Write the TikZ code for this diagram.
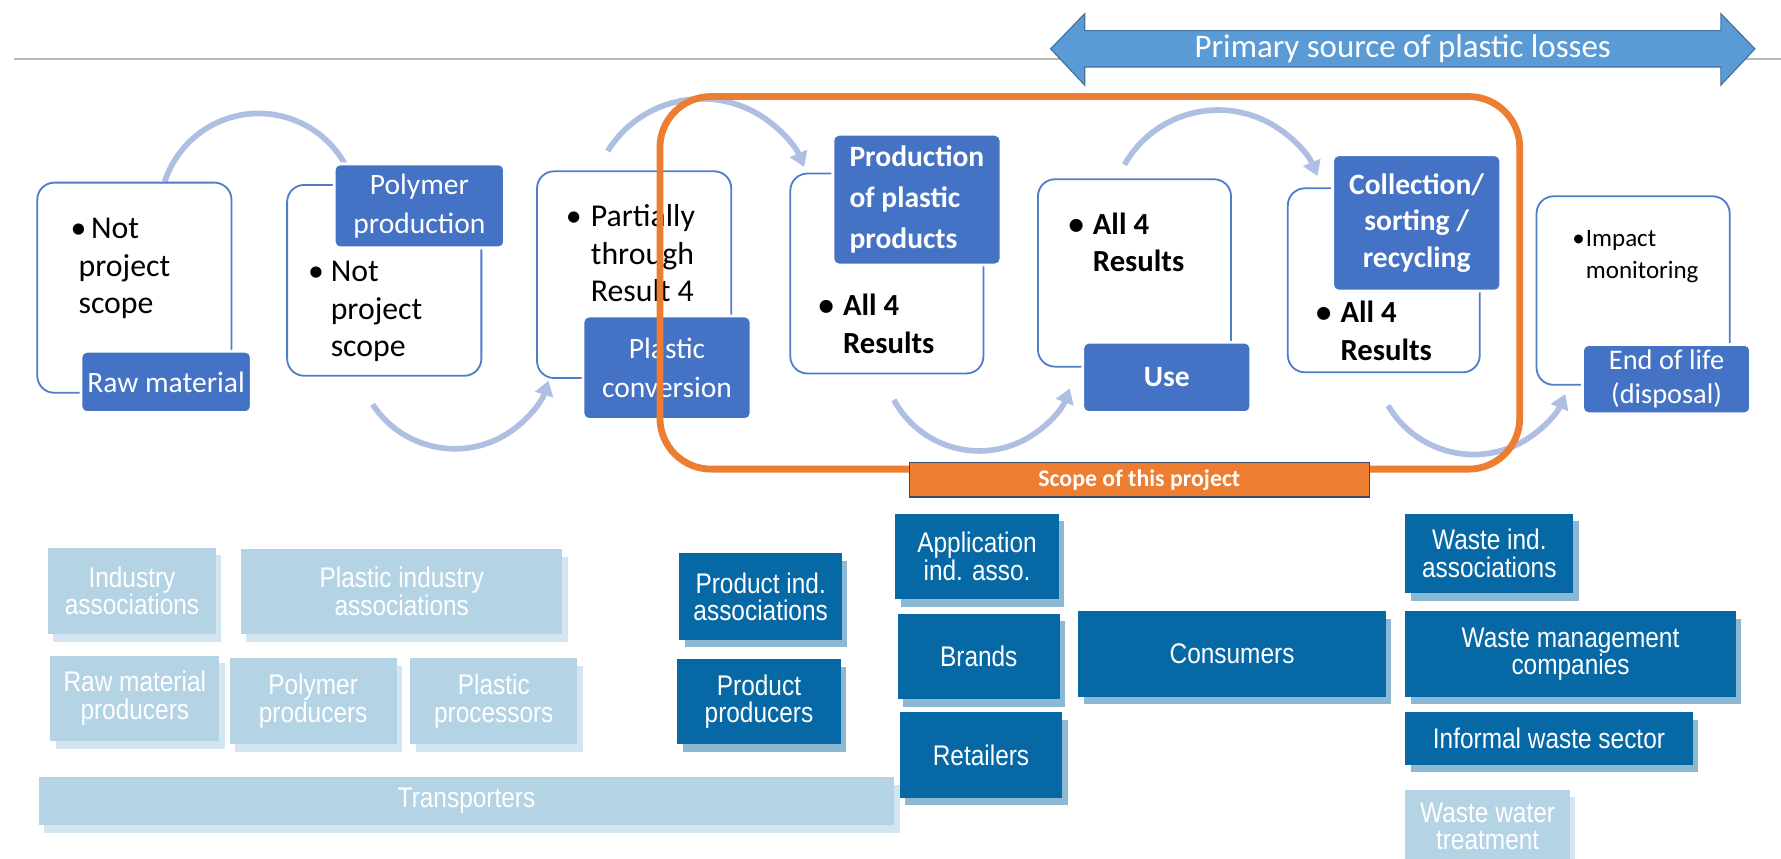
\documentclass[tikz,border=0pt]{standalone}
\usepackage{fontspec}
\setmainfont{Carlito}
\newfontfamily\condfont[FakeStretch=0.86]{Liberation Sans}
\usetikzlibrary{arrows.meta}
\definecolor{lblue}{HTML}{4472C4}
\definecolor{procc}{HTML}{4F7DCB}
\definecolor{arcc}{HTML}{AEBFE3}
\definecolor{orng}{HTML}{ED7D31}
\definecolor{pblue}{HTML}{5B9BD5}
\definecolor{pbord}{HTML}{41719C}
\definecolor{dkb}{HTML}{0668A5}
\definecolor{ltb}{HTML}{B4D3E5}
\definecolor{dks}{HTML}{8DB8D4}
\definecolor{lts}{HTML}{D3E5F0}
\definecolor{navy}{HTML}{3B4A6B}
\newcommand\stk[8]{%
  \fill[#7] (#2+5,#3+7) rectangle ++(#4,#5);
  \node[stkbox, fill=#6, minimum width=#4, minimum height=#5] (#1) at (#2,#3) {#8};}
\begin{document}
\begin{tikzpicture}[x=1pt,y=-1pt,
  procbox/.style={draw=procc, line width=1.6pt, rounded corners=15pt, fill=white, anchor=north west, inner sep=0},
  lbl/.style={fill=lblue, draw=white, line width=2.5pt, rounded corners=5pt, anchor=north west, text=white, align=center, inner sep=2pt, font=\fontsize{26}{34}\selectfont},
  bul/.style={anchor=north west, inner sep=0, align=left, font=\fontsize{28}{33}\selectfont},
  bulb/.style={bul, font=\fontsize{27}{33}\selectfont\bfseries},
  arcline/.style={draw=arcc, line width=5pt},
  arcst/.style={arcline, -{Triangle[length=13pt,width=16pt]}},
  stkbox/.style={anchor=north west, inner sep=0, text=white, align=center, font=\condfont\fontsize{25}{24}\selectfont}]
\useasboundingbox (0,0) rectangle (1568,756);
% top rule
\draw[gray!55, line width=2pt] (12,52) -- (1568,52);
% primary source double arrow
\filldraw[fill=pblue, draw=pbord, line width=1pt]
  (925,43) -- (955,12) -- (955,27) -- (1515,27) -- (1515,12) -- (1545,43)
  -- (1515,75) -- (1515,59) -- (955,59) -- (955,75) -- cycle;
\node[text=white, font=\fontsize{29}{30}\selectfont] (psrc) at (1235,43) {Primary source of plastic losses};
% coordinates for the arcs
\coordinate (a1s) at (145,160);
\coordinate (a2s) at (328,356);
\coordinate (a3s) at (535,133);
\coordinate (a4s) at (787,352);
\coordinate (a5s) at (990,145);
\coordinate (a6s) at (1222,357);
\draw[arcline] (a1s) arc[start angle=-162, end angle=-25, radius=87];
\draw[arcst] (a2s) arc[start angle=146.7, end angle=17.9, radius=86.7];
\draw[arcst] (a3s) arc[start angle=-148.1, end angle=-22.6, radius=97.6];
\draw[arcst] (a4s) arc[start angle=151.8, end angle=20.8, radius=85.3];
\draw[arcst] (a5s) arc[start angle=-150.5, end angle=-22.8, radius=94.8];
\draw[arcst] (a6s) arc[start angle=149.5, end angle=23.1, radius=87.6];
% process boxes
\node[procbox, minimum width=171, minimum height=185] (b1) at (32,160) {};
\node[procbox, minimum width=171, minimum height=168] (b2) at (252,162) {};
\node[procbox, minimum width=171, minimum height=182] (b3) at (472,150) {};
\node[procbox, minimum width=170, minimum height=176] (b4) at (695,152) {};
\node[procbox, minimum width=170, minimum height=165] (b5) at (913,157) {};
\node[procbox, minimum width=169, minimum height=162] (b6) at (1133,165) {};
\node[procbox, minimum width=170, minimum height=166] (b7) at (1352,172) {};
% bullet texts
\node[bul] (t1) at (62,192) {\textbullet\hspace{4pt}Not\\\hspace*{7pt}project\\\hspace*{7pt}scope};
\node[bul] (t2) at (291,230) {\llap{\textbullet\hspace{6pt}}Not\\project\\scope};
\node[bul] (t3) at (520,180) {\llap{\textbullet\hspace{8pt}}Partially\\through\\Result 4};
\node[bulb] (t4) at (742,259) {\llap{\textbullet\hspace{8pt}}All 4\\Results};
\node[bulb] (t5) at (962,187) {\llap{\textbullet\hspace{8pt}}All 4\\Results};
\node[bulb] (t6) at (1180,265) {\llap{\textbullet\hspace{8pt}}All 4\\Results};
\node[bul, font=\fontsize{22}{28}\selectfont] (t7) at (1396,203) {\llap{\textbullet\hspace{1pt}}Impact\\monitoring};
% labels
\node[lbl, minimum width=150, minimum height=54] (l1) at (70,308) {Raw material};
\node[lbl, minimum width=150, minimum height=74] (l2) at (293,143) {Polymer\\production};
\node[lbl, minimum width=148, minimum height=91] (l3) at (512,277) {Plastic\\conversion};
\node[lbl, minimum width=148, minimum height=115, font=\fontsize{26}{36}\selectfont\bfseries, align=left] (l4) at (732,117) {Production\\of plastic\\products};
\node[lbl, minimum width=148, minimum height=62, font=\fontsize{26}{34}\selectfont\bfseries] (l5) at (952,300) {Use};
\node[lbl, minimum width=148, minimum height=120, font=\fontsize{26}{32}\selectfont\bfseries] (l6) at (1172,135) {Collection/\\sorting /\\recycling};
\node[lbl, minimum width=148, minimum height=61, font=\fontsize{25}{30}\selectfont] (l7) at (1392,302) {End of life\\(disposal)};
% scope frame
\node[draw=orng, line width=6pt, rounded corners=45pt, anchor=north west, minimum width=757, minimum height=328, inner sep=0] (scope) at (578,82) {};
\node[fill=orng, draw=navy, line width=1pt, anchor=north west, minimum width=405, minimum height=30, inner sep=0, text=white, font=\fontsize{21}{22}\selectfont\bfseries] (scopel) at (800,407) {Scope of this project};
% stakeholders: light
\stk{s1}{42}{482}{148}{76}{ltb}{lts}{Industry\\associations}
\stk{s2}{212}{483}{283}{75}{ltb}{lts}{Plastic industry\\associations}
\stk{s3}{44}{577}{149}{75}{ltb}{lts}{Raw material\\producers}
\stk{s4}{202}{579}{147}{76}{ltb}{lts}{Polymer\\producers}
\stk{s5}{361}{579}{147}{76}{ltb}{lts}{Plastic\\processors}
\stk{s6}{34}{684}{753}{42}{ltb}{lts}{Transporters}
\stk{s7}{1237}{695}{145}{64}{ltb}{lts}{Waste water\\treatment}
% stakeholders: dark
\stk{d1}{598}{487}{143}{76}{dkb}{dks}{Product ind.\\associations}
\stk{d2}{596}{580}{144}{75}{dkb}{dks}{Product\\producers}
\stk{d3}{788}{452}{144}{75}{dkb}{dks}{Application\\ind. asso.}
\stk{d4}{790}{540}{143}{75}{dkb}{dks}{Brands}
\stk{d5}{792}{627}{143}{75}{dkb}{dks}{Retailers}
\stk{d6}{949}{538}{271}{75}{dkb}{dks}{Consumers}
\stk{d7}{1237}{452}{148}{70}{dkb}{dks}{Waste ind.\\associations}
\stk{d8}{1237}{538}{291}{75}{dkb}{dks}{Waste management\\companies}
\stk{d9}{1237}{627}{253}{46}{dkb}{dks}{Informal waste sector}
\end{tikzpicture}
\end{document}
